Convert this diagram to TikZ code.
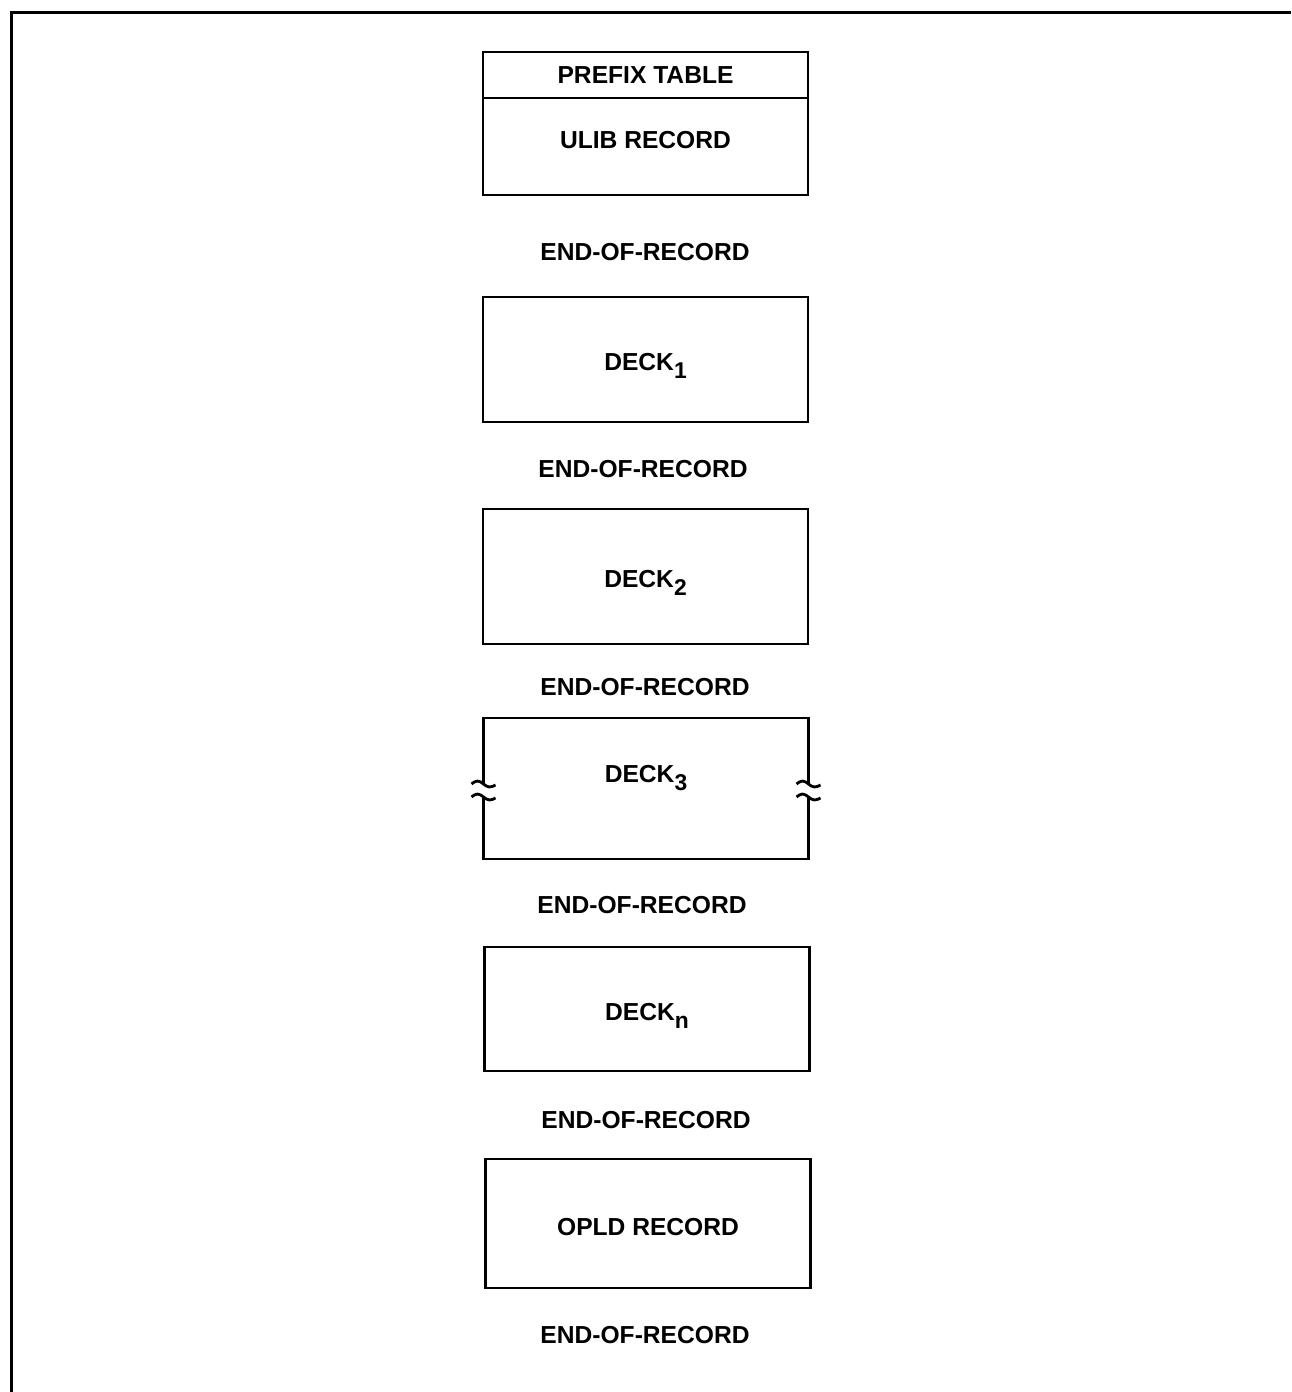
\documentclass[tikz,border=0pt]{standalone}
\usepackage{fontspec}
\setmainfont{Liberation Sans}
\usetikzlibrary{positioning,calc}
\newcommand{\lowsub}[1]{\raisebox{-0.62ex}{\fontsize{13}{15}\selectfont#1}}
\newcommand{\breakmark}[1]{%
  \draw[line width=1.6pt] (#1) ++(-0.24,0.01)
    sin ++(0.12,0.06) cos ++(0.12,-0.06)
    sin ++(0.12,-0.06) cos ++(0.12,0.04);}

\begin{document}
\begin{tikzpicture}[
  lbl/.style={font=\fontsize{14}{16}\selectfont\bfseries},
  rec/.style={
    lbl,
    draw,
    line width=1.6pt,
    minimum width=6.5cm,
    inner sep=0pt,
    outer sep=0pt,
    align=center
  }
]
\useasboundingbox (0,0) rectangle (25.82,-27.84);
% page frame, top and left edge only
\draw[line width=2pt] (25.82,-0.25) -| (0.23,-27.84);

\node[rec,minimum height=0.92cm] (prefix) at (12.91,-1.50) {PREFIX TABLE};
\node[rec,minimum height=1.94cm,below=0pt of prefix] (ulib) {};
\node[lbl] (ulibtxt) at ($(ulib)+(0,0.13)$) {ULIB RECORD};
\node[lbl] (eor1) at (12.90,-5.04) {END-OF-RECORD};

\node[rec,minimum height=2.5cm] (deck1) at (12.91,-7.19) {};
\node[lbl] (deck1txt) at ($(deck1)+(0,-0.13)$) {DECK\lowsub{1}};
\node[lbl] (eor2) at (12.86,-9.38) {END-OF-RECORD};

\node[rec,minimum height=2.7cm] (deck2) at (12.91,-11.53) {};
\node[lbl] (deck2txt) at ($(deck2)+(0,-0.13)$) {DECK\lowsub{2}};
\node[lbl] (eor3) at (12.90,-13.74) {END-OF-RECORD};

% deck 3 has broken sides
\node[rec,draw=none,minimum height=2.82cm] (deck3) at (12.92,-15.77) {};
\node[lbl] (deck3txt) at ($(deck3)+(0,0.2)$) {DECK\lowsub{3}};
\draw[line width=1.6pt] ($(deck3.west)+(0,0.08)$) |- (deck3.north east)
  -- ($(deck3.east)+(0,0.08)$);
\draw[line width=1.6pt] ($(deck3.west)+(0,-0.18)$) |- (deck3.south east)
  -- ($(deck3.east)+(0,-0.18)$);
\breakmark{$(deck3.west)+(0,0.08)$}
\breakmark{$(deck3.west)+(0,-0.18)$}
\breakmark{$(deck3.east)+(0,0.08)$}
\breakmark{$(deck3.east)+(0,-0.18)$}
\node[lbl] (eor4) at (12.84,-18.10) {END-OF-RECORD};

\node[rec,minimum height=2.48cm] (deckn) at (12.94,-20.18) {};
\node[lbl] (deckntxt) at ($(deckn)+(0,-0.14)$) {DECK\lowsub{n}};
\node[lbl] (eor5) at (12.92,-22.40) {END-OF-RECORD};

\node[rec,minimum height=2.58cm] (opld) at (12.96,-24.47) {};
\node[lbl] (opldtxt) at ($(opld)+(0,-0.07)$) {OPLD RECORD};
\node[lbl] (eor6) at (12.90,-26.70) {END-OF-RECORD};
\end{tikzpicture}
\end{document}
